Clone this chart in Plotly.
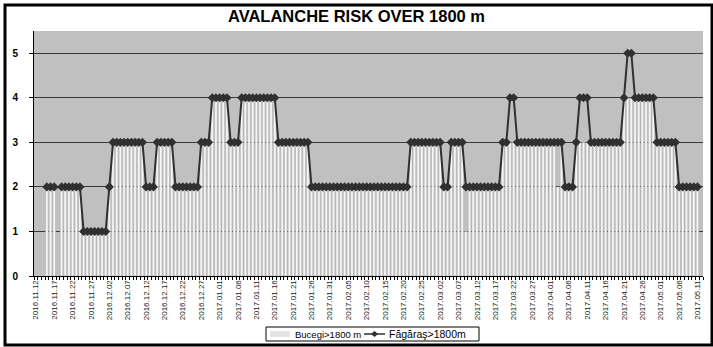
import plotly.graph_objects as go
import pandas as pd

# ---- data -------------------------------------------------------------
start_date = "2016-11-12"
n_days = 182
dates = [d.strftime("%Y-%m-%d") for d in pd.date_range(start_date, periods=n_days, freq="D")]
tick_dates = dates[::5]
tick_labels = [d.replace("-", ".") for d in tick_dates]

# Fagaras > 1800 m (line), one value per day, None = no bulletin
fagaras = [
    None, None, None, 2, 2,   2, None, 2, 2, 2,   2, 2, 2, 1, 1,   1, 1, 1, 1, 1,
    2, 3, 3, 3, 3,   3, 3, 3, 3, 3,   2, 2, 2, 3, 3,   3, 3, 3, 2, 2,
    2, 2, 2, 2, 2,   3, 3, 3, 4, 4,   4, 4, 4, 3, 3,   3, 4, 4, 4, 4,
    4, 4, 4, 4, 4,   4, 3, 3, 3, 3,   3, 3, 3, 3, 3,   2, 2, 2, 2, 2,
    2, 2, 2, 2, 2,   2, 2, 2, 2, 2,   2, 2, 2, 2, 2,   2, 2, 2, 2, 2,
    2, 2, 3, 3, 3,   3, 3, 3, 3, 3,   3, 2, 2, 3, 3,   3, 3, 2, 2, 2,
    2, 2, 2, 2, 2,   2, 2, 3, 3, 4,   4, 3, 3, 3, 3,   3, 3, 3, 3, 3,
    3, 3, 3, 3, 2,   2, 2, 3, 4, 4,   4, 3, 3, 3, 3,   3, 3, 3, 3, 3,
    4, 5, 5, 4, 4,   4, 4, 4, 4, 3,   3, 3, 3, 3, 3,   2, 2, 2, 2, 2,
    2, None,
]

# Bucegi > 1800 m (bars)
bucegi = [
    None, None, None, 2, 2,   2, None, 2, 2, 2,   2, 2, 2, 1, 1,   1, 1, 1, 1, 1,
    2, 3, 3, 3, 3,   3, 3, 3, 3, 3,   2, 2, 2, 3, 3,   3, 3, 3, 2, 2,
    2, 2, 2, 2, 2,   3, 3, 3, 4, 4,   4, 4, 4, 3, 3,   3, 4, 4, 4, 4,
    4, 4, 4, 4, 4,   4, 3, 3, 3, 3,   3, 3, 3, 3, 3,   2, 2, 2, 2, 2,
    2, 2, 2, 2, 2,   2, 2, 2, 2, 2,   2, 2, 2, 2, 2,   2, 2, 2, 2, 2,
    2, 2, 3, 3, 3,   3, 3, 3, 3, 3,   3, 2, 2, 3, 3,   3, 3, 1, 2, 2,
    2, 2, 2, 2, 2,   2, 2, 3, 3, 3,   3, 3, 3, 3, 3,   3, 3, 3, 3, 3,
    3, 3, 2, 3, 2,   2, 2, 3, 3, 3,   3, 3, 3, 3, 3,   3, 3, 3, 3, 3,
    4, 4, 4, 4, 4,   4, 4, 4, 4, 3,   3, 3, 3, 3, 3,   2, 2, 2, 2, 2,
    2, None,
]

y_ticks = [0, 1, 2, 3, 4, 5]
name_bucegi = "Bucegi>1800 m"
name_fagaras = "Făgăraş>1800m"

# ---- figure -----------------------------------------------------------
W, H = 713, 347
ml, mr, mt, mb = 34, 10, 31, 71
pw, ph = W - ml - mr, H - mt - mb

LINE_C = "#303030"
BAR_C = "#f6f6f6"


def px_x(px):
    return (px - ml) / pw


def px_y(py):
    return (H - mb - py) / ph


fig = go.Figure()
fig.add_trace(go.Bar(
    x=dates, y=bucegi, name=name_bucegi,
    marker=dict(color=BAR_C, line=dict(color="#a8a8a8", width=0.5)),
))
fig.add_trace(go.Scatter(
    x=dates, y=fagaras, name=name_fagaras, mode="lines+markers",
    line=dict(color=LINE_C, width=2),
    marker=dict(symbol="diamond", size=7, color=LINE_C),
    connectgaps=False,
))

# ---- hand-made compact legend (Excel style) ---------------------------
lg_x0, lg_x1, lg_y0, lg_y1 = 266, 479, 327, 341
lg_cy = (lg_y0 + lg_y1) / 2
shapes = [
    dict(type="rect", xref="paper", yref="paper",
         x0=px_x(lg_x0), x1=px_x(lg_x1), y0=px_y(lg_y1), y1=px_y(lg_y0),
         fillcolor="white", line=dict(color="black", width=1)),
    dict(type="rect", xref="paper", yref="paper",
         x0=px_x(270), x1=px_x(290), y0=px_y(lg_cy + 3), y1=px_y(lg_cy - 3),
         fillcolor="#e4e4e4", line=dict(color="#e4e4e4", width=0)),
    dict(type="line", xref="paper", yref="paper",
         x0=px_x(364), x1=px_x(385), y0=px_y(lg_cy), y1=px_y(lg_cy),
         line=dict(color=LINE_C, width=1.5)),
    dict(type="path", xref="paper", yref="paper",
         path="M {a},{b} L {c},{d} L {e},{b} L {c},{f} Z".format(
             a=px_x(371), b=px_y(lg_cy), c=px_x(374.5), d=px_y(lg_cy - 3),
             e=px_x(378), f=px_y(lg_cy + 3)),
         fillcolor=LINE_C, line=dict(color=LINE_C, width=0)),
    # outer chart frame
    dict(type="rect", xref="paper", yref="paper",
         x0=px_x(5), x1=px_x(712), y0=px_y(345), y1=px_y(5),
         line=dict(color="black", width=3), layer="above"),
]
annotations = [
    dict(text=name_bucegi, xref="paper", yref="paper", x=px_x(293), y=px_y(lg_cy),
         xanchor="left", yanchor="middle", showarrow=False,
         font=dict(size=9.5, color="black")),
    dict(text=name_fagaras, xref="paper", yref="paper", x=px_x(387), y=px_y(lg_cy),
         xanchor="left", yanchor="middle", showarrow=False,
         font=dict(size=10.5, color="black")),
]

fig.update_layout(
    width=W, height=H,
    margin=dict(l=ml, r=mr, t=mt, b=mb, autoexpand=False),
    paper_bgcolor="white", plot_bgcolor="#c0c0c0",
    bargap=0.3,
    font=dict(family="Arial, Liberation Sans, sans-serif", color="black"),
    title=dict(text="AVALANCHE RISK OVER 1800 m", x=0.5, xanchor="center",
               y=1 - 16 / H, yanchor="middle",
               font=dict(size=16.5, weight="bold", color="black")),
    showlegend=False,
    xaxis=dict(
        type="date", automargin=False,
        range=["2016-11-11 12:00", "2017-05-12 12:00"],
        tickmode="array", tickvals=tick_dates, ticktext=tick_labels,
        tickangle=-90, tickfont=dict(size=8, color="#222"),
        ticks="", showgrid=False, showline=True, linecolor="black", linewidth=1,
        minor=dict(ticks="outside", ticklen=3, tickcolor="black",
                   tickmode="linear", tick0="2016-11-11 12:00", dtick=86400000,
                   showgrid=False),
    ),
    yaxis=dict(
        automargin=False,
        range=[0, 5.5], tickmode="array", tickvals=y_ticks,
        showgrid=True, gridcolor="#3a3a3a", gridwidth=1,
        zeroline=False, showline=True, linecolor="black", linewidth=1,
        ticks="outside", ticklen=4, tickcolor="black",
        tickfont=dict(size=10, weight="bold", color="black"),
        ticklabelstandoff=9,
    ),
    shapes=shapes,
    annotations=annotations,
)

fig.write_html(
    "out.html",
    config={"displayModeBar": False},
    post_script="document.body.style.margin='0';document.body.style.overflow='hidden';",
)
